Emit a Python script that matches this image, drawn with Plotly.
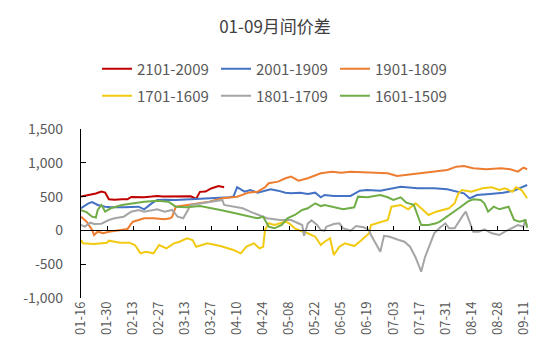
import plotly.graph_objects as go

YEAR = "2019"

# ---- data (month-day, value) ----
red_dates = ["01-16","01-21","01-24","01-27","01-29","01-31","02-03","02-07","02-10","02-12","02-15","02-19","02-23","02-26","03-01","03-04","03-08","03-13","03-16","03-18","03-19","03-21","03-24","03-27","03-31","04-03"]
red_vals = [500,525,545,575,560,460,455,460,460,495,490,490,500,510,500,500,495,500,505,480,470,570,575,620,655,638]

blue_dates = ["01-16","01-20","01-22","01-25","01-29","02-01","02-08","02-16","02-19","02-23","02-26","03-02","03-08","03-16","03-24","04-01","04-06","04-08","04-10","04-14","04-17","04-21","04-25","04-28","05-02","05-06","05-09","05-14","05-18","05-22","05-25","05-27","06-01","06-07","06-10","06-15","06-19","06-26","07-03","07-07","07-16","07-25","08-01","08-06","08-10","08-13","08-17","08-24","08-31","09-06","09-09","09-13"]
blue_vals = [327,400,420,376,351,342,342,351,312,400,450,455,450,460,470,480,490,500,640,573,598,558,588,608,588,558,549,558,539,558,490,524,509,509,509,588,598,588,623,647,623,623,608,573,549,475,524,539,558,588,623,672]

orange_dates = ["01-16","01-19","01-22","01-23","01-25","01-28","01-31","02-03","02-10","02-12","02-13","02-16","02-19","02-24","03-02","03-05","03-06","03-08","03-14","03-21","03-26","04-02","04-10","04-16","04-21","04-25","04-27","05-02","05-06","05-09","05-13","05-18","05-22","05-25","05-31","06-05","06-10","06-19","06-30","07-05","07-10","07-18","07-25","08-01","08-06","08-10","08-15","08-22","08-30","09-04","09-08","09-11","09-13"]
orange_vals = [203,129,6,-68,-19,-43,-19,-4,21,100,129,154,179,179,164,179,200,351,376,401,425,475,499,558,573,638,697,721,771,795,736,771,820,845,869,854,869,854,845,805,820,845,869,894,943,953,919,904,919,904,869,928,904]

yellow_dates = ["01-16","01-17","01-23","01-30","01-31","02-06","02-11","02-14","02-17","02-20","02-24","02-27","03-03","03-07","03-10","03-14","03-17","03-19","03-25","04-01","04-08","04-12","04-15","04-19","04-22","04-24","04-25","04-27","04-30","05-06","05-08","05-11","05-15","05-18","05-22","05-25","05-27","05-30","06-01","06-04","06-07","06-12","06-16","06-20","06-21","06-27","06-30","07-02","07-07","07-11","07-15","07-18","07-22","07-26","07-30","08-02","08-05","08-07","08-09","08-14","08-20","08-25","08-29","09-01","09-05","09-07","09-10","09-13"]
yellow_vals = [-142,-191,-201,-182,-152,-182,-182,-216,-339,-315,-339,-216,-265,-191,-167,-117,-142,-241,-191,-231,-290,-339,-241,-191,-265,-241,6,105,80,129,105,31,-19,-43,-93,-216,-167,-117,-364,-241,-191,-231,-142,-43,80,129,154,351,376,312,401,327,228,277,302,327,401,549,598,573,623,638,598,623,573,638,598,475]

gray_dates = ["01-16","01-18","01-21","01-23","01-27","01-31","02-03","02-08","02-12","02-16","02-19","02-23","02-26","03-02","03-06","03-09","03-12","03-14","03-16","03-22","03-27","04-02","04-03","04-08","04-13","04-17","04-22","04-26","05-03","05-09","05-15","05-16","05-18","05-20","05-23","05-25","05-27","05-28","06-01","06-04","06-06","06-10","06-13","06-17","06-20","06-21","06-24","06-26","06-28","07-01","07-06","07-09","07-12","07-15","07-17","07-18","07-20","07-23","07-25","07-28","07-31","08-02","08-05","08-09","08-11","08-13","08-15","08-18","08-21","08-25","08-29","09-01","09-05","09-08","09-11","09-12","09-13"]
gray_vals = [80,55,114,95,100,154,179,203,277,302,277,302,312,277,302,203,179,277,376,401,425,450,376,351,327,277,228,179,154,154,80,-80,100,150,80,6,-4,55,95,105,31,-4,65,46,6,-68,-216,-315,-80,-93,-142,-167,-241,-400,-540,-610,-400,-191,-43,40,105,31,31,203,277,129,-19,-19,16,-43,-68,-19,31,80,55,160,55]

green_dates = ["01-16","01-19","01-22","01-24","01-25","01-27","01-29","02-01","02-07","02-12","02-19","02-26","03-04","03-08","03-14","03-21","03-28","04-01","04-09","04-16","04-21","04-24","04-27","04-30","05-04","05-07","05-11","05-15","05-18","05-22","05-25","05-27","05-31","06-06","06-12","06-14","06-19","06-26","06-30","07-03","07-07","07-10","07-14","07-16","07-18","07-22","07-26","07-28","08-01","08-05","08-08","08-12","08-15","08-19","08-21","08-23","08-26","08-29","09-03","09-06","09-09","09-12","09-13"]
green_vals = [300,270,203,190,302,376,277,327,376,401,425,440,425,351,342,360,327,302,253,213,179,203,55,31,80,179,228,302,327,401,360,376,351,312,342,499,490,524,490,450,490,410,380,228,80,80,105,129,203,277,342,425,460,450,401,277,351,312,351,154,129,154,40]

y_tickvals = [-1000, -500, 0, 500, 1000, 1500]
y_ticktext = ["-1,000", "-500", "0", "500", "1,000", "1,500"]

# name, dates, values, colour, legend row, x axis used
series = [
    ("2101-2009", red_dates, red_vals, "#C00000", "legend", "x"),
    ("2001-1909", blue_dates, blue_vals, "#4472C4", "legend", "x"),
    ("1901-1809", orange_dates, orange_vals, "#ED7D31", "legend", "x"),
    ("1701-1609", yellow_dates, yellow_vals, "#F2CA12", "legend2", "x2"),
    ("1801-1709", gray_dates, gray_vals, "#A5A5A5", "legend2", "x2"),
    ("1601-1509", green_dates, green_vals, "#70AD47", "legend2", "x2"),
]

def full(ds):
    return [f"{YEAR}-{d}" for d in ds]

fig = go.Figure()
for name, ds, vs, col, lg, xa in series:
    fig.add_trace(go.Scatter(x=full(ds), y=vs, mode="lines", name=name,
                             line=dict(color=col, width=2), legend=lg,
                             xaxis=xa, yaxis="y"))

DAY = 86400000
xr = [f"{YEAR}-01-16", f"{YEAR}-09-14"]
FONT = "Noto Sans CJK SC"

legend_common = dict(orientation="h", xref="container", yref="container",
                     xanchor="left", yanchor="middle",
                     font=dict(size=15, color="#595959", family=FONT),
                     entrywidth=74, entrywidthmode="pixels",
                     bgcolor="rgba(0,0,0,0)", borderwidth=0)

fig.update_layout(
    width=550, height=361,
    margin=dict(l=81, r=21, t=129, b=63, autoexpand=False),
    plot_bgcolor="white", paper_bgcolor="white",
    font=dict(family=FONT, color="#595959"),
    title=dict(text="01-09月间价差", x=0.5, xref="container", xanchor="center",
               y=1 - 27 / 361, yref="container", yanchor="middle",
               font=dict(size=17, color="#404040", family=FONT)),
    legend=dict(x=97 / 550, y=1 - 69 / 361, **legend_common),
    legend2=dict(x=97 / 550, y=1 - 96 / 361, **legend_common),
    xaxis=dict(type="date", range=xr, tickmode="linear", tick0=xr[0], dtick=14 * DAY,
               tickformat="%m-%d", tickangle=-90, showline=False, ticks="",
               showgrid=False, zeroline=False, tickfont=dict(size=13, color="#595959")),
    xaxis2=dict(type="date", range=xr, overlaying="x", anchor="free", position=0.4,
                side="bottom", tickmode="linear", tick0=xr[0], dtick=14 * DAY,
                showline=True, linecolor="black", linewidth=1.3,
                ticks="inside", ticklen=4, tickcolor="black", tickwidth=1,
                showticklabels=False, showgrid=False, zeroline=False),
    yaxis=dict(range=[-1000, 1500], tickvals=y_tickvals, ticktext=y_ticktext,
               showline=True, linecolor="black", linewidth=1.3,
               ticks="inside", ticklen=5, tickcolor="black",
               showgrid=False, zeroline=False, ticklabelstandoff=14,
               tickfont=dict(size=14, color="#595959")),
)

fig.write_html("out.html", config={"displayModeBar": False},
               post_script="document.body.style.margin='0';")
